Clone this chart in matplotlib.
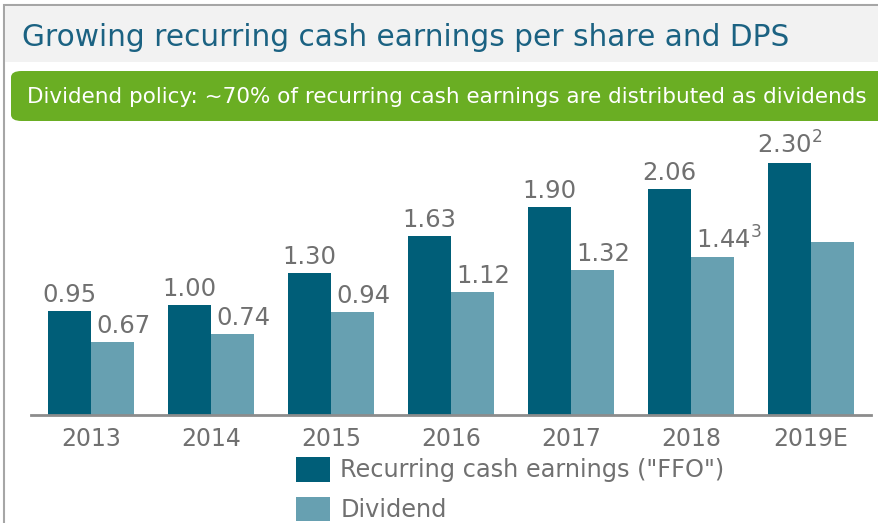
import numpy as np
import matplotlib.pyplot as plt
from matplotlib.patches import FancyBboxPatch, Rectangle

# data
years = ['2013', '2014', '2015', '2016', '2017', '2018', '2019E']
ffo = [0.95, 1.00, 1.30, 1.63, 1.90, 2.06, 2.30]
dividend = [0.67, 0.74, 0.94, 1.12, 1.32, 1.44, 1.58]
ffo_labels = ['0.95', '1.00', '1.30', '1.63', '1.90', '2.06', r'2.30$^{\mathregular{2}}$']
div_labels = ['0.67', '0.74', '0.94', '1.12', '1.32', r'1.44$^{\mathregular{3}}$', '']

dark = '#005e78'
light = '#67a0b1'
grey_txt = '#707070'

plt.rcParams['font.family'] = 'DejaVu Sans'
plt.rcParams['mathtext.fontset'] = 'dejavusans'
W, H = 879, 523
fig = plt.figure(figsize=(W / 100, H / 100), dpi=100)

# frame + title band
fig.patches.append(Rectangle((4 / W, -0.1), (W + 10) / W, (H - 5) / H + 0.1, transform=fig.transFigure,
                             facecolor='white', edgecolor='#a6a6a6', lw=1.5, zorder=0))
fig.patches.append(Rectangle((5 / W, (H - 62) / H), (W - 5) / W, 56 / H, transform=fig.transFigure,
                             facecolor='#f2f2f2', edgecolor='none', zorder=0.5))
fig.text(22 / W, (H - 37) / H, 'Growing recurring cash earnings per share and DPS',
         color='#1b6282', fontsize=21.3, va='center', ha='left')

# green policy box
fig.patches.append(FancyBboxPatch((11 / W, (H - 121) / H), (W + 20) / W, 50 / H,
                                  boxstyle='round,pad=0,rounding_size=0.012',
                                  transform=fig.transFigure, facecolor='#6aae23',
                                  edgecolor='none', zorder=0.5))
fig.text(27 / W, (H - 97) / H,
         'Dividend policy: ~70% of recurring cash earnings are distributed as dividends',
         color='white', fontsize=15.5, va='center', ha='left')

# bars
ax = fig.add_axes([31 / W, (H - 415) / H, 840 / W, 285 / H])
ax.set_zorder(2)
ax.set_facecolor('none')
x = np.arange(len(years))
w = 43 / 120
b1 = ax.bar(x - w / 2, ffo, w, color=dark, label='Recurring cash earnings ("FFO")')
b2 = ax.bar(x + w / 2, dividend, w, color=light, label='Dividend')

# value labels: FFO centred, dividend shifted right (as in the original slide)
for rect, lab in zip(b1, ffo_labels):
    ax.annotate(lab, (rect.get_x() + rect.get_width() / 2, rect.get_height()),
                xytext=(0, 9), textcoords='offset pixels', ha='center', va='baseline',
                fontsize=17.5, color=grey_txt)
for rect, lab in zip(b2, div_labels):
    ax.annotate(lab, (rect.get_x(), rect.get_height()),
                xytext=(5, 9), textcoords='offset pixels', ha='left', va='baseline',
                fontsize=17.5, color=grey_txt)

ax.set_xlim(-0.5, len(years) - 0.5)
ax.set_ylim(0, 2.6)
ax.set_xticks(x)
ax.set_xticklabels(years, fontsize=17, color=grey_txt)
ax.tick_params(axis='x', length=0, pad=9)
ax.set_yticks([])
for s in ['top', 'right', 'left']:
    ax.spines[s].set_visible(False)
ax.spines['bottom'].set_color('#8c8c8c')
ax.spines['bottom'].set_linewidth(2)

leg = fig.legend(handles=[b1, b2], loc='upper left',
                 bbox_to_anchor=(296 / W, (H - 457) / H), frameon=False,
                 fontsize=17.3, handlelength=1.4, handleheight=1.2,
                 handletextpad=0.45, labelspacing=0.6, borderaxespad=0, borderpad=0)
for t in leg.get_texts():
    t.set_color(grey_txt)

fig.savefig('out.png', dpi=100)
